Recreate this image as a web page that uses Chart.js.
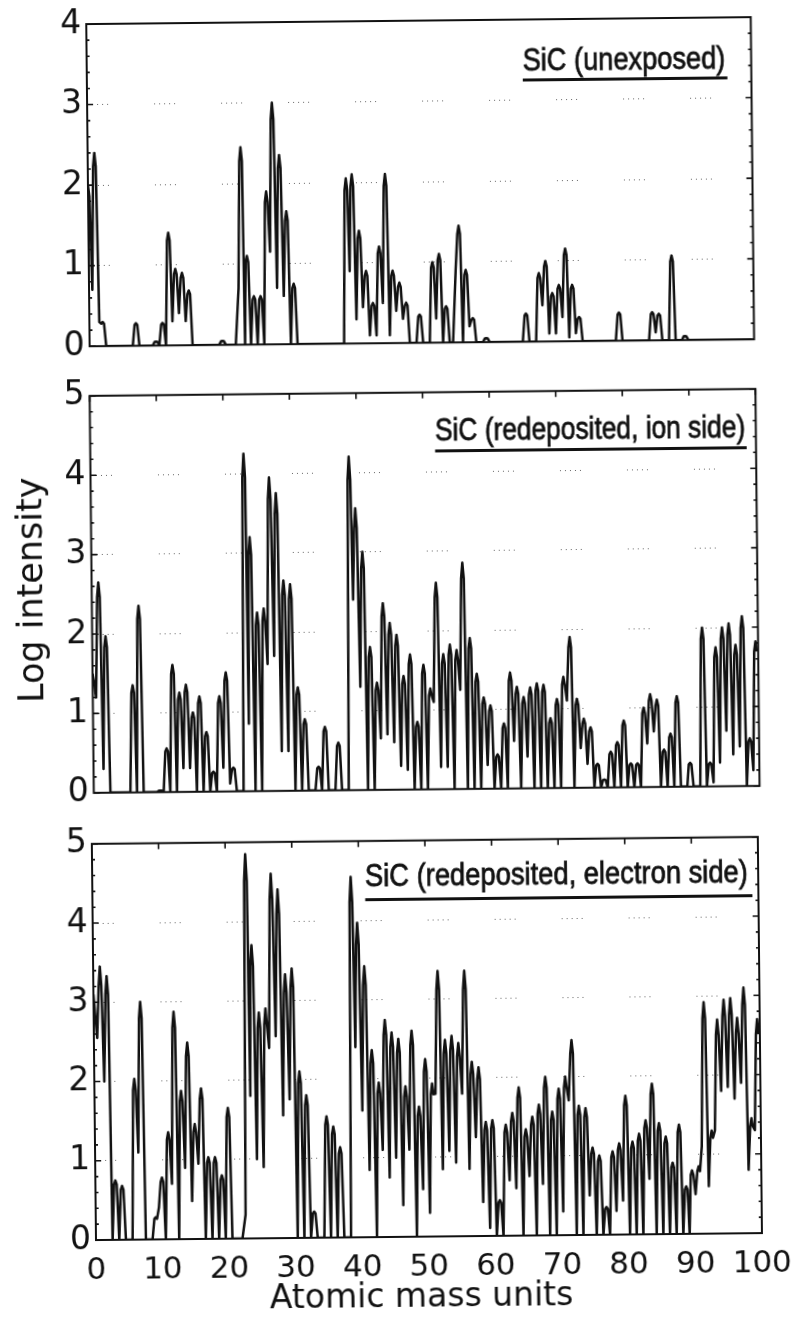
<!DOCTYPE html>
<html>
<head>
<meta charset="utf-8">
<title>SiC mass spectra</title>
<script src="https://cdn.jsdelivr.net/npm/chart.js@4"></script>
<style>
    html, body { margin: 0; padding: 0; background: #fff; overflow: hidden; }
    /* the scanned figure sits slightly tilted on the page */
    #page { position: absolute; left: 0; top: 0; width: 798px; height: 1317px; transform: rotate(-0.6deg); transform-origin: 0 0; }
    #page canvas { position: absolute; left: 0; }
</style>
</head>
<body>
<div id="page">
    <canvas id="chart1"></canvas>
    <canvas id="chart2"></canvas>
    <canvas id="chart3"></canvas>
</div>
<script>
// peak position of each unit mass (the instrument scale drifts a little at high mass)
var masses = [
    0, 1, 2, 3, 4, 5, 6, 7, 8, 9,
    10, 11, 12, 13, 14, 15, 16, 17, 18, 19,
    20, 21, 22, 23, 23.8, 24.8, 25.8, 26.8, 27.8, 28.8,
    29.8, 30.8, 31.8, 32.8, 33.8, 34.8, 35.8, 36.8, 37.8, 38.8,
    39.7, 40.7, 41.7, 42.7, 43.7, 44.7, 45.7, 46.7, 47.7, 48.7,
    49.7, 50.7, 51.7, 52.7, 53.7, 54.7, 55.7, 56.7, 57.7, 58.7,
    59.7, 60.7, 61.7, 62.7, 63.7, 64.7, 65.7, 66.7, 67.7, 68.7,
    69.7, 70.7, 71.7, 72.7, 73.7, 74.7, 75.7, 76.7, 77.7, 78.7,
    79.7, 80.7, 81.7, 82.7, 83.7, 84.7, 85.7, 86.7, 87.7, 88.7,
    89.6, 90.6, 91.6, 92.6, 93.6, 94.6, 95.6, 96.6, 97.6, 98.6,
    99.6
];

// SiC (unexposed)
var peaks1 = [
    2.0, 2.4, 0.3, 0, 0, 0, 0, 0.28, 0, 0,
    0.05, 0.28, 1.4, 0.95, 0.9, 0.68, 0, 0, 0, 0,
    0.05, 0, 0, 2.45, 1.1, 0.6, 0.6, 1.9, 3.0, 2.35,
    1.65, 0.75, 0, 0, 0, 0, 0, 0, 0, 2.05,
    2.1, 1.4, 0.9, 0.5, 1.2, 2.1, 0.9, 0.75, 0.5, 0,
    0.35, 0, 1.0, 1.1, 0.45, 0, 1.45, 0.9, 0.3, 0,
    0.05, 0, 0, 0, 0, 0, 0.35, 0, 0.85, 1.0,
    0.6, 0.7, 1.15, 0.7, 0.3, 0, 0, 0, 0, 0,
    0.35, 0, 0, 0, 0, 0.35, 0.33, 0, 1.05, 0,
    0.05, 0, 0, 0, 0, 0, 0, 0, 0, 0,
    0
];
var valleys1 = [
    0.7, 0.3, 0, 0, 0, 0, 0, 0, 0, 0,
    0, 0, 0.3, 0.4, 0.3, 0, 0, 0, 0, 0,
    0, 0, 0.7, 0, 0, 0, 0, 1.15, 0.7, 0.6,
    0, 0, 0, 0, 0, 0, 0, 0, 0, 0.9,
    0.3, 0.45, 0.1, 0.1, 0.5, 0.1, 0.4, 0.3, 0, 0,
    0, 0, 0.3, 0, 0, 0.9, 0, 0.2, 0, 0,
    0, 0, 0, 0, 0, 0, 0, 0, 0.45, 0.1,
    0.1, 0.3, 0.05, 0.1, 0, 0, 0, 0, 0, 0,
    0, 0, 0, 0, 0, 0.1, 0, 0, 0, 0,
    0, 0, 0, 0, 0, 0, 0, 0, 0, 0
];

// SiC (redeposited, ion side)
var peaks2 = [
    1.5, 2.65, 1.97, 0, 0, 0, 1.35, 2.35, 0, 0,
    0.02, 0.55, 1.6, 1.25, 1.35, 1.0, 1.2, 0.75, 0.25, 1.2,
    1.5, 0.3, 0, 4.25, 3.2, 2.25, 2.3, 3.95, 3.75, 2.65,
    2.6, 1.3, 0.9, 0, 0.3, 0.8, 0, 0.6, 0, 4.2,
    3.55, 3.0, 1.8, 1.35, 2.35, 2.1, 1.95, 1.43, 1.7, 0.85,
    1.57, 1.27, 2.6, 1.7, 1.82, 1.75, 2.85, 1.9, 1.45, 1.15,
    1.05, 0.43, 0.82, 1.46, 1.28, 1.15, 1.27, 1.32, 1.3, 0.88,
    1.12, 1.4, 1.9, 1.12, 0.87, 0.76, 0.3, 0.1, 0.45, 0.57,
    0.84, 0.3, 0.3, 1.0, 1.17, 1.1, 0.47, 0.67, 1.14, 0,
    0.3, 0, 2.0, 0.3, 1.75, 2.0, 2.05, 1.78, 2.14, 0.6,
    1.82
];
var valleys2 = [
    1.2, 0.3, 0, 0, 0, 0, 0, 0, 0, 0,
    0, 0, 0, 0.3, 0.3, 0, 0, 0, 0, 0.3,
    0.1, 0, 0, 0.85, 0, 0, 1.6, 1.7, 0.5, 0.5,
    0, 0, 0, 0, 0, 0, 0, 0, 0, 2.4,
    1.3, 0, 0, 0.65, 0.7, 0.6, 0.3, 0.25, 0, 0,
    0, 1.1, 0.28, 0.28, 0, 1.25, 0, 0, 0, 0.3,
    0, 0, 0, 0.6, 0, 0.4, 0, 0, 0, 0,
    0, 1.1, 0, 0.5, 0.3, 0, 0, 0, 0, 0,
    0, 0, 0, 0.55, 0.7, 0, 0, 0, 0, 0,
    0, 0, 0, 0.05, 0.3, 0.7, 0.4, 0.5, 0, 0.2
];

// SiC (redeposited, electron side)
var peaks3 = [
    3.1, 3.45, 3.33, 0.75, 0.68, 0, 2.03, 3.0, 0, 0.28,
    0.78, 1.35, 2.87, 1.87, 2.48, 1.45, 1.9, 1.03, 1.03, 0.8,
    1.65, 0, 0, 4.85, 3.7, 2.85, 2.9, 4.6, 4.4, 3.33,
    3.4, 2.1, 1.8, 0.33, 0, 1.53, 1.4, 1.14, 0, 4.55,
    3.97, 3.42, 2.36, 1.95, 2.74, 2.58, 2.5, 1.9, 2.6, 1.64,
    2.24, 1.93, 3.35, 2.48, 2.53, 2.44, 3.35, 2.2, 2.13, 1.44,
    1.46, 0.45, 1.4, 1.55, 1.87, 1.34, 1.5, 1.65, 2.0, 1.56,
    1.85, 2.0, 2.46, 1.63, 1.6, 1.1, 1.0, 0.35, 1.05, 1.15,
    1.75, 1.17, 1.27, 1.44, 1.9, 1.4, 1.23, 0.9, 1.38, 0.6,
    0.8, 0.85, 2.92, 1.3, 2.7, 2.95, 2.97, 2.72, 3.1, 1.45,
    2.7
];
var valleys3 = [
    2.55, 2.0, 0, 0, 0, 0, 1.1, 0, 0, 0.4,
    0, 0.7, 0, 0.9, 0.48, 0.95, 0, 0, 0, 0,
    0, 0, 0.3, 1.8, 1.0, 0.9, 2.4, 2.55, 1.55, 1.75,
    0, 0, 0, 0, 0, 0, 0, 0, 0, 2.4,
    1.6, 0.85, 0, 1.1, 0.75, 1.0, 0.4, 1.1, 0, 0.6,
    0.3, 1.8, 0.85, 1.08, 0.93, 1.8, 0.85, 1.25, 0.43, 0.1,
    0, 0, 0.7, 0.6, 0, 0.75, 0, 0.65, 0, 0,
    0.3, 1.7, 0, 0, 0.5, 0, 0, 0, 0.3, 0.43,
    0, 0, 0, 0.7, 0, 0, 0, 0, 0, 0,
    0.5, 1.1, 0.6, 1.3, 1.8, 1.85, 1.7, 1.9, 0.8, 1.3
];

var tickFont = '"DejaVu Sans", sans-serif';
var labelFont = '"Liberation Sans", sans-serif';

// each peak has steep sides and a narrow cap, the valley sits between two peaks
function spectrum(peaks, valleys) {
    var points = [];
    for (var i = 0; i < peaks.length; i++) {
        if (peaks[i] > 0) {
            points.push({ x: masses[i] - 0.2, y: peaks[i] * 0.93 });
            points.push({ x: masses[i], y: peaks[i] });
            points.push({ x: masses[i] + 0.2, y: peaks[i] * 0.93 });
        } else {
            points.push({ x: masses[i], y: 0 });
        }
        if (i < valleys.length) {
            points.push({ x: (masses[i] + masses[i + 1]) / 2, y: valleys[i] });
        }
    }
    // the first peak starts at the axis
    return points.filter(function (p) { return p.x >= 0; });
}

// frame, inward ticks, the underlined sample name and the axis labels
var framePlugin = {
    id: 'frame',
    afterDatasetsDraw: function (chart, args, opts) {
        var ctx = chart.ctx;
        var area = chart.chartArea;
        var xs = chart.scales.x;
        var ys = chart.scales.y;

        ctx.save();
        ctx.strokeStyle = '#111';
        ctx.lineWidth = 2;
        ctx.strokeRect(area.left, area.top, area.width, area.height);

        ctx.lineWidth = 1.6;
        ctx.beginPath();
        for (var v = 0; v <= ys.max + 0.001; v += 0.2) {
            var y = ys.getPixelForValue(v);
            var len = Math.abs(v - Math.round(v)) < 0.01 ? 6 : 3;
            ctx.moveTo(area.left, y);
            ctx.lineTo(area.left + len, y);
            ctx.moveTo(area.right, y);
            ctx.lineTo(area.right - len, y);
        }
        if (opts.topTicks) {
            for (var m = 0; m <= 100; m += 10) {
                ctx.moveTo(xs.getPixelForValue(m), area.top);
                ctx.lineTo(xs.getPixelForValue(m), area.top + 6);
            }
        }
        ctx.stroke();

        var left = xs.getPixelForValue(opts.textFrom);
        var right = xs.getPixelForValue(opts.textTo);
        ctx.fillStyle = '#111';
        ctx.font = '32px ' + labelFont;
        ctx.textAlign = 'left';
        ctx.textBaseline = 'alphabetic';
        ctx.fillText(opts.name, left, ys.getPixelForValue(opts.textY), right - left);
        ctx.lineWidth = 0.8;
        ctx.strokeText(opts.name, left, ys.getPixelForValue(opts.textY), right - left);

        ctx.lineWidth = 3;
        ctx.beginPath();
        ctx.moveTo(left, ys.getPixelForValue(opts.lineY));
        ctx.lineTo(xs.getPixelForValue(opts.lineTo), ys.getPixelForValue(opts.lineY));
        ctx.stroke();

        ctx.textAlign = 'center';
        ctx.textBaseline = 'middle';
        if (opts.xLabel) {
            ctx.font = '33px ' + tickFont;
            ctx.fillText(opts.xLabel, xs.getPixelForValue(opts.xLabelAt), area.bottom + 61);
        }
        if (opts.yLabel) {
            ctx.translate(27, ys.getPixelForValue(opts.yLabelAt));
            ctx.rotate(-Math.PI / 2);
            ctx.font = '35px ' + tickFont;
            ctx.fillText(opts.yLabel, 0, 0);
        }
        ctx.restore();
    }
};

function drawPanel(id, box, peaks, valleys, yMax, frame) {
    var canvas = document.getElementById(id);
    canvas.style.top = box.canvasTop + 'px';
    canvas.width = 798;
    canvas.height = box.canvasHeight;

    return new Chart(canvas.getContext('2d'), {
        type: 'line',
        data: {
            datasets: [{
                data: spectrum(peaks, valleys),
                borderColor: '#111',
                borderWidth: 2.5,
                borderJoinStyle: 'round',
                pointRadius: 0
            }]
        },
        plugins: [framePlugin],
        options: {
            responsive: false,
            animation: false,
            layout: {
                autoPadding: false,
                padding: { top: box.top, right: 798 - box.right, left: 0, bottom: 0 }
            },
            plugins: {
                legend: { display: false },
                tooltip: { enabled: false },
                frame: frame
            },
            scales: {
                x: {
                    type: 'linear',
                    min: 0,
                    max: 100,
                    afterFit: function (scale) { scale.height = box.canvasHeight - box.bottom; },
                    border: { display: false },
                    grid: { display: false },
                    ticks: {
                        display: !!box.xTicks,
                        stepSize: 10,
                        maxRotation: 0,
                        autoSkip: false,
                        padding: 4,
                        color: '#111',
                        font: { family: tickFont, size: 31 }
                    }
                },
                y: {
                    min: 0,
                    max: yMax,
                    afterFit: function (scale) { scale.width = box.left; },
                    border: { display: false, dash: [1, 4, 1, 4, 1, 4, 1, 4, 1, 46] },
                    grid: {
                        drawTicks: false,
                        color: '#666',
                        lineWidth: 1
                    },
                    ticks: {
                        stepSize: 1,
                        padding: 5,
                        color: '#111',
                        font: { family: tickFont, size: 33 }
                    }
                }
            }
        }
    });
}

drawPanel('chart1',
    { canvasTop: 0, canvasHeight: 372, left: 86, right: 750.5, top: 25, bottom: 351.4 },
    peaks1, valleys1, 4,
    { name: 'SiC (unexposed)', textFrom: 65.6, textTo: 96.1, textY: 3.37, lineY: 3.25, lineTo: 96.4, topTicks: false });

drawPanel('chart2',
    { canvasTop: 372, canvasHeight: 448, left: 85.5, right: 751.3, top: 14.8, bottom: 421.8 },
    peaks2, valleys2, 5,
    { name: 'SiC (redeposited, ion side)', textFrom: 51.8, textTo: 98.4, textY: 4.39, lineY: 4.26, lineTo: 98.6, topTicks: true, yLabel: 'Log intensity', yLabelAt: 2.56 });

drawPanel('chart3',
    { canvasTop: 820, canvasHeight: 497, left: 83, right: 749, top: 12.3, bottom: 421, xTicks: true },
    peaks3, valleys3, 5,
    { name: 'SiC (redeposited, electron side)', textFrom: 40.96, textTo: 98.45, textY: 4.43, lineY: 4.26, lineTo: 99.1, topTicks: true, xLabel: 'Atomic mass units', xLabelAt: 48.8 });
</script>
</body>
</html>
